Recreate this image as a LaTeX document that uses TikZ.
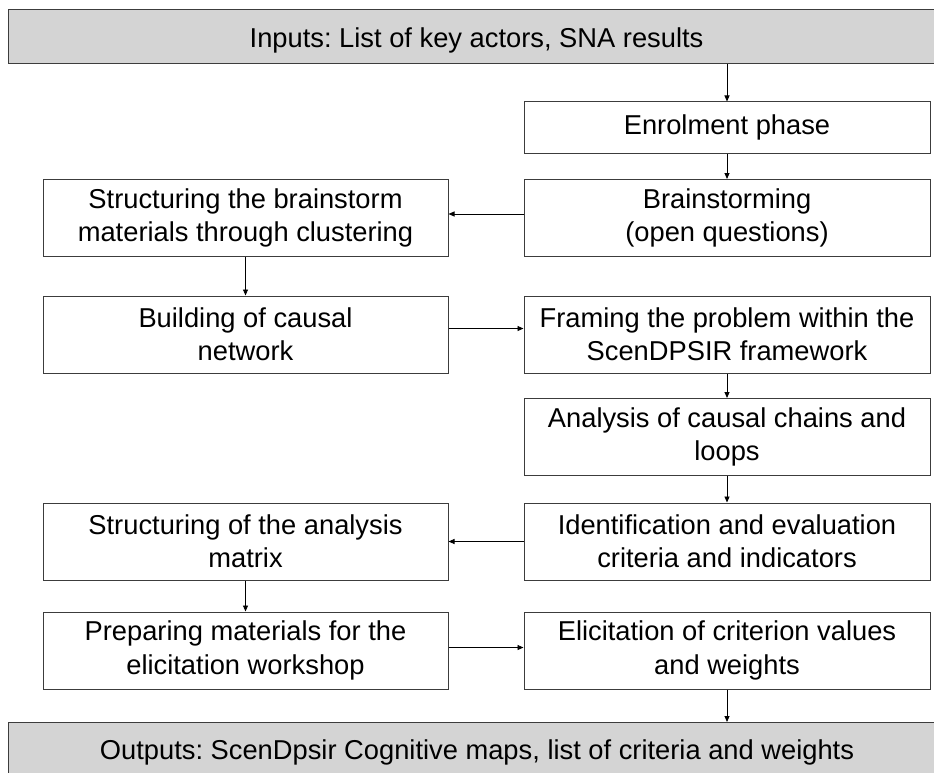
\documentclass[tikz,border=0pt]{standalone}
\usepackage{fontspec}
\setmainfont{Liberation Sans}
\usetikzlibrary{arrows.meta}
\definecolor{boxgray}{RGB}{212,212,212}
\definecolor{edge}{RGB}{60,60,60}
\frenchspacing
\begin{document}
\begin{tikzpicture}[x=1pt,y=1pt,
  stepbox/.style={draw=edge, line width=1pt, fill=white, rectangle, inner sep=0pt,
    minimum width=406pt, minimum height=77pt, align=center,
    font=\fontsize{27.3}{33.3}\selectfont},
  bandbox/.style={draw=edge, line width=1pt, fill=boxgray, rectangle, inner sep=0pt},
  lbl/.style={inner sep=0pt, anchor=base, font=\fontsize{27.3}{33.3}\selectfont},
  arr/.style={draw=black, line width=0.9pt, -{Triangle[length=6pt,width=5pt]}}]
\useasboundingbox (0,0) rectangle (934,-773);
\begin{scope}
\clip (0,0) rectangle (934,-773);
% bands
\node[bandbox, minimum width=938pt, minimum height=54pt, anchor=north west] (in) at (8,-9) {};
\node[lbl] (intext) at (476.5,-47.3) {Inputs: List of key actors, SNA results};
\node[bandbox, minimum width=938pt, minimum height=70pt, anchor=north west] (out) at (8,-722) {};
\node[lbl] (outtext) at (477,-759) {Outputs: ScenDpsir Cognitive maps, list of criteria and weights};
% right column
\node[stepbox, minimum height=51pt] (enrol) at (727,-127.5) {Enrolment phase};
\node[stepbox] (brain) at (727,-218) {Brainstorming\\(open questions)};
\node[stepbox] (frame) at (727,-334.5) {Framing the problem within the\\ScenDPSIR framework};
\node[stepbox] (anal) at (727,-437) {Analysis of causal chains and\\loops};
\node[stepbox] (ident) at (727,-541.5) {Identification and evaluation\\criteria and indicators};
\node[stepbox] (elic) at (727,-650.5) {Elicitation of criterion values\\and weights};
% left column
\node[stepbox, minimum width=405pt] (struct) at (245.5,-218) {Structuring the brainstorm\\materials through clustering};
\node[stepbox, minimum width=405pt] (build) at (245.5,-334.5) {Building of causal\\network};
\node[stepbox, minimum width=405pt] (matrix) at (245.5,-541.5) {Structuring of the analysis\\matrix};
\node[stepbox, minimum width=405pt] (prep) at (245.5,-650.5) {Preparing materials for the\\elicitation workshop};
% connectors
\draw[arr] (enrol |- in.south) -- (enrol.north);
\draw[arr] (enrol) -- (brain);
\draw[arr] ([yshift=4pt]brain.west) -- ([yshift=4pt]struct.east);
\draw[arr] (struct) -- (build);
\draw[arr] ([yshift=6pt]build.east) -- ([yshift=6pt]frame.west);
\draw[arr] (frame) -- (anal);
\draw[arr] (anal) -- (ident);
\draw[arr] (ident.west) -- (matrix.east);
\draw[arr] (matrix) -- (prep);
\draw[arr] ([yshift=3pt]prep.east) -- ([yshift=3pt]elic.west);
\draw[arr] (elic.south) -- (elic |- out.north);
\end{scope}
\end{tikzpicture}
\end{document}
